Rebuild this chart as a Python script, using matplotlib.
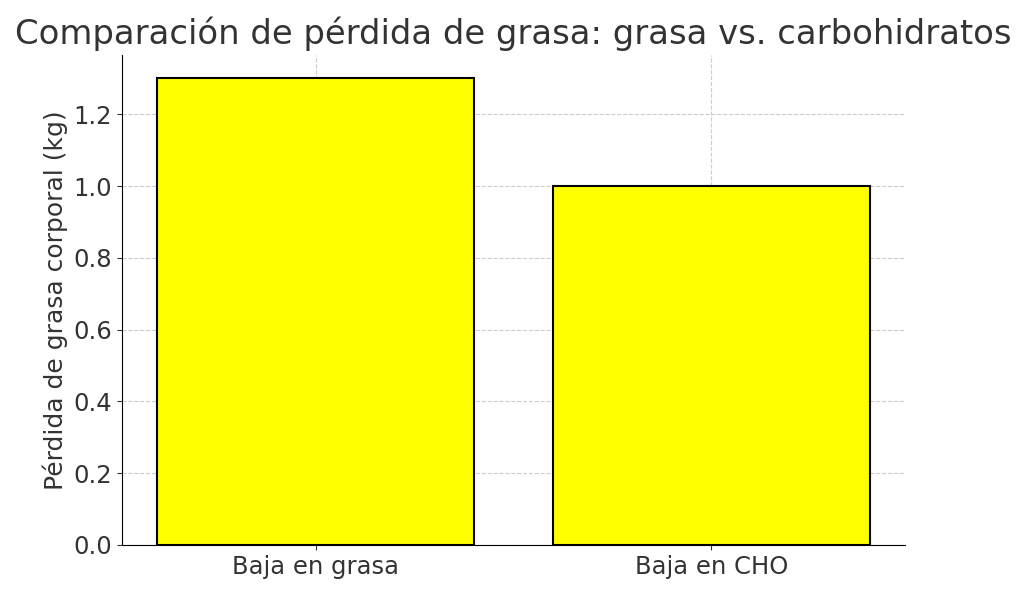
import matplotlib.pyplot as plt

# data
dietas = ["Baja en grasa", "Baja en CHO"]
perdida_grasa = [1.3, 1.0]

plt.rcParams["font.family"] = "DejaVu Sans"

fig, ax = plt.subplots(figsize=(10.24, 5.93), dpi=100)

ax.bar(dietas, perdida_grasa, color="yellow", edgecolor="black", linewidth=1.5, zorder=2)

ax.set_title("Comparación de pérdida de grasa: grasa vs. carbohidratos",
             fontsize=24.4, color="#333333", pad=8)
ax.set_ylabel("Pérdida de grasa corporal (kg)", fontsize=18, color="#333333")
ax.tick_params(axis="both", labelsize=17.5, colors="#333333")
ax.grid(True, linestyle="--", color="#cccccc", linewidth=0.8, zorder=0)
ax.spines["top"].set_visible(False)
ax.spines["right"].set_visible(False)

plt.subplots_adjust(left=0.119, right=0.884, top=0.907, bottom=0.081)
plt.savefig("out.png")
